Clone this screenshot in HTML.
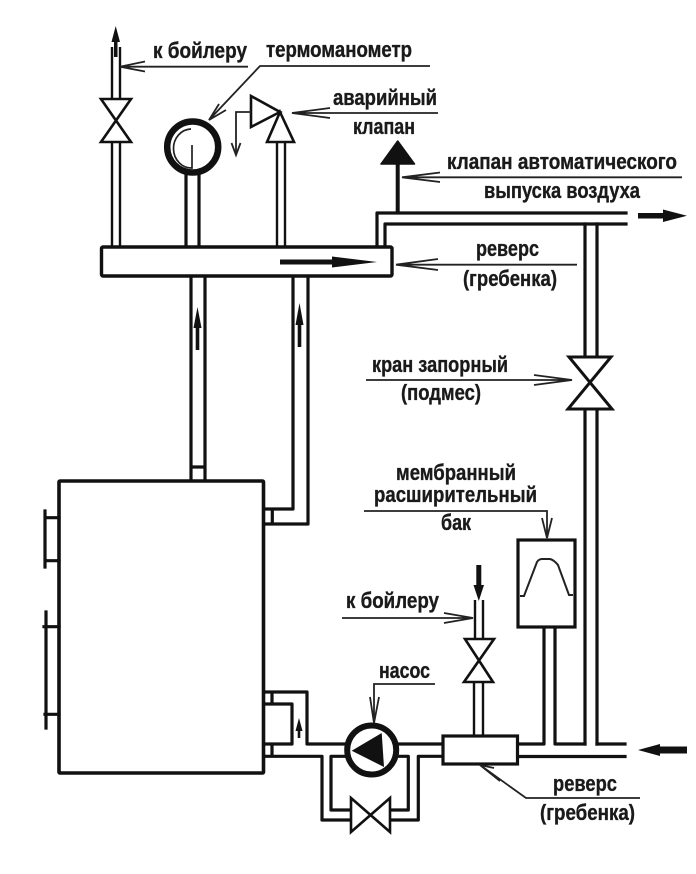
<!DOCTYPE html>
<html><head><meta charset="utf-8"><style>
html,body{margin:0;padding:0;background:#fff}
svg{display:block}
text{font-family:"Liberation Sans",sans-serif;font-weight:bold;font-size:22px;fill:#1a1a1a;stroke:#1a1a1a;stroke-width:.35}
.t{fill:none;stroke:#111;stroke-width:3.2;stroke-linejoin:round;stroke-linecap:square}
.m{fill:none;stroke:#111;stroke-width:2.4;stroke-linejoin:round}
.l{fill:none;stroke:#222;stroke-width:1.8}
.v{fill:#fff;stroke:#111;stroke-width:2.6;stroke-linejoin:miter}
</style></head><body>
<svg width="696" height="874" viewBox="0 0 696 874" xmlns="http://www.w3.org/2000/svg">
<rect width="696" height="874" fill="#fff"/>

<!-- top-left riser -->
<path class="m" d="M112 47V99M120 47V99M112 142V246M120 142V246"/>
<path class="v" d="M101 99H131L101 142H131Z"/>
<path d="M115.7 26L111.5 42H114V57H117.5V42H120Z" fill="#111"/>

<!-- gauge -->
<path class="t" d="M186 174V246M199 174V246"/>
<circle cx="192.7" cy="147" r="25.5" fill="#fff" stroke="#111" stroke-width="6.5"/>
<path d="M191 129A18 19.5 0 0 0 192 168V145" fill="none" stroke="#222" stroke-width="1.7"/>

<!-- safety valve -->
<path class="m" d="M277 142V246M285 142V246"/>
<path class="v" d="M251 96L280 112L251 127Z"/>
<path class="v" d="M280 112L294 142H267Z"/>
<path class="l" d="M251 112H236V155"/>
<path class="l" d="M231.5 143L236 155L240.5 143"/>

<!-- air valve -->
<path d="M397.7 141L381 164H414.5Z" fill="#111" stroke="#111" stroke-width="1.5" stroke-linejoin="round"/>
<path class="t" stroke-linecap="butt" style="stroke-width:4" d="M397.7 164V212"/>

<!-- top right pipe -->
<path class="t" d="M377 246V213H626M385 246V224H626"/>
<path class="t" d="M585 224V357M597 224V357M585 409V744M597 409V744"/>
<path class="v" style="stroke-width:3" d="M569 357H611L568 409H612Z"/>
<path d="M638 213H663V209.5L687 215.7L663 222V218.5H638Z" fill="#111"/>

<!-- upper manifold -->
<rect x="101.5" y="247" width="290.5" height="29" rx="1.5" fill="#fff" stroke="#111" stroke-width="3.4"/>
<path d="M280 259.5H332V256.5L377 262L332 267.5V264.5H280Z" fill="#111"/>

<!-- pipes to boiler -->
<path class="t" d="M191 277V480M205 277V480M192 467H204"/>
<path class="t" d="M293 277V509H265M308 277V524H265M272.3 510V523"/>
<path d="M197.5 307L193.5 328H195.7V350H199.3V328H201.5Z" fill="#111"/>
<path d="M299.5 303L295.5 325H297.7V347H301.3V325H303.5Z" fill="#111"/>

<!-- boiler -->
<rect x="59" y="481" width="204.5" height="292" rx="1" fill="#fff" stroke="#111" stroke-width="3.6"/>
<path class="t" stroke-linecap="butt" d="M45 511V567M45 517.7H59M45 560.7H59M46 612V728M44 626.7H59M45 714.3H59"/>

<!-- boiler lower right connections -->
<path class="t" d="M265 692H307V744H345M265 704H292V744H265M272 693V703M272 745V755"/>
<path class="t" d="M265 756.3H322V820H351M345 756.3H331V810H351"/>
<path class="t" d="M398 744H443M443 756.3H418.3V820H390M399 756.3H408.3V810H390"/>
<path d="M299 718L295.5 731H297.7V738H300.3V731H302.5Z" fill="#111"/>
<path class="v" d="M351 798V832L390 798V832Z"/>

<!-- pump -->
<circle cx="371.7" cy="750" r="24.5" fill="#fff" stroke="#111" stroke-width="6"/>
<path d="M351.7 750.7L381.7 733L384 767Z" fill="#111"/>

<!-- lower manifold -->
<path class="m" d="M474 682V736M483 682V736"/>
<path class="m" d="M475 600V639M483 600V639"/>
<path class="v" d="M465 639H494L464 682H493Z"/>
<path d="M476.3 565H481.3V585H484L478.8 601L473.5 585H476.3Z" fill="#111"/>
<rect x="443" y="736" width="74.5" height="28" fill="#fff" stroke="#111" stroke-width="3.2"/>
<path class="t" d="M518 744H544V627M518 756.5H625M555 627V744H585M597 744H625"/>
<path d="M638 750L660 744V746.5H687V753.5H660V756Z" fill="#111"/>

<!-- tank -->
<rect x="518" y="540" width="57" height="87" fill="#fff" stroke="#111" stroke-width="3.2"/>
<path d="M520 596H524L537 562Q539 559 542 559H550Q554 560 558 565L569 595H573" fill="none" stroke="#222" stroke-width="2"/>

<!-- leaders -->
<path class="l" d="M248 66.7H120M145 61.5L120 66.7L145 71.5"/>
<path class="l" d="M430 66H260L209 120M219 104L209 120L226 110"/>
<path class="l" d="M438 113H292M330 108L292 113L330 118"/>
<path class="l" d="M682 177.3H402M440 172.5L402 177.3L440 182"/>
<path class="l" d="M577 264.7H396M438 259L396 264.7L438 270"/>
<path class="l" d="M366 380H572M534 375L572 380L534 385"/>
<path class="l" d="M364 511H547V538M542 518L547 538L552 518"/>
<path class="l" d="M342 618H473M444 613L473 618L444 623"/>
<path class="l" d="M435 684H374V723M370 697L374 723L379 697"/>
<path class="l" d="M640 798H526L480 765M494 768L480 765L500 781"/>

<!-- labels -->
<text x="153" y="58" textLength="94" lengthAdjust="spacingAndGlyphs">к бойлеру</text>
<text x="266" y="57" textLength="146" lengthAdjust="spacingAndGlyphs">термоманометр</text>
<text x="333" y="105" textLength="104" lengthAdjust="spacingAndGlyphs">аварийный</text>
<text x="353" y="134" textLength="62" lengthAdjust="spacingAndGlyphs">клапан</text>
<text x="447" y="169" textLength="230" lengthAdjust="spacingAndGlyphs">клапан автоматического</text>
<text x="484" y="198" textLength="156" lengthAdjust="spacingAndGlyphs">выпуска воздуха</text>
<text x="476" y="256" textLength="63" lengthAdjust="spacingAndGlyphs">реверс</text>
<text x="463" y="286" textLength="94" lengthAdjust="spacingAndGlyphs">(гребенка)</text>
<text x="372" y="372" textLength="136" lengthAdjust="spacingAndGlyphs">кран запорный</text>
<text x="401" y="400" textLength="80" lengthAdjust="spacingAndGlyphs">(подмес)</text>
<text x="396" y="480" textLength="120" lengthAdjust="spacingAndGlyphs">мембранный</text>
<text x="374" y="502" textLength="163" lengthAdjust="spacingAndGlyphs">расширительный</text>
<text x="441" y="530" textLength="30" lengthAdjust="spacingAndGlyphs">бак</text>
<text x="346" y="608" textLength="93" lengthAdjust="spacingAndGlyphs">к бойлеру</text>
<text x="379" y="678" textLength="51" lengthAdjust="spacingAndGlyphs">насос</text>
<text x="553" y="791" textLength="64" lengthAdjust="spacingAndGlyphs">реверс</text>
<text x="540" y="820" textLength="95" lengthAdjust="spacingAndGlyphs">(гребенка)</text>
</svg>
</body></html>
